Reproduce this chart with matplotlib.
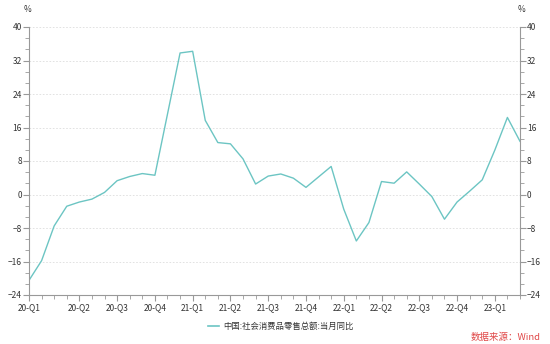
import matplotlib
matplotlib.use("Agg")
import matplotlib.pyplot as plt
from matplotlib.ticker import MultipleLocator, AutoMinorLocator

plt.rcParams['font.family'] = ['Noto Sans CJK SC', 'DejaVu Sans']

# Monthly YoY values (2020-02 .. 2023-05)
values = [-20.5, -15.8, -7.5, -2.8, -1.8, -1.1, 0.5, 3.3, 4.3, 5.0, 4.6,
          19.2, 33.8, 34.2, 17.7, 12.4, 12.1, 8.5, 2.5, 4.4, 4.9, 3.9, 1.7,
          4.2, 6.7, -3.5, -11.1, -6.7, 3.1, 2.7, 5.4, 2.5, -0.5, -5.9, -1.8,
          0.8, 3.5, 10.6, 18.4, 12.7]
tick_pos = [0, 4, 7, 10, 13, 16, 19, 22, 25, 28, 31, 34, 37]
tick_labels = ['20-Q1', '20-Q2', '20-Q3', '20-Q4', '21-Q1', '21-Q2', '21-Q3',
               '21-Q4', '22-Q1', '22-Q2', '22-Q3', '22-Q4', '23-Q1']
series_name = '中国:社会消费品零售总额:当月同比'
source_text = '数据来源：Wind'

fig = plt.figure(figsize=(5.5, 3.44), dpi=100)
ax = fig.add_axes([29/550, 1-295/344, (520-29)/550, (295-27)/344])

x = list(range(len(values)))
ax.plot(x, values, color='#6cc5c3', lw=1.0)

ax.set_xlim(0, len(values) - 1)
ax.set_ylim(-24, 40)
ax.yaxis.set_major_locator(MultipleLocator(8))
ax.yaxis.set_minor_locator(AutoMinorLocator(3))
ax.set_xticks(tick_pos)
ax.set_xticklabels(tick_labels)
ax.set_xticks(x, minor=True)

for v in range(-16, 41, 8):
    ax.axhline(v, color='#dddddd', lw=0.6, ls=(0, (2, 2)), zorder=0)

ax.spines['top'].set_visible(False)
for s in ['left', 'right', 'bottom']:
    ax.spines[s].set_color('#999999')
    ax.spines[s].set_linewidth(0.8)

ax.tick_params(axis='y', which='both', left=True, right=True,
               labelleft=True, labelright=True, direction='out',
               color='#999999', labelsize=6, labelcolor='#333333', pad=1)
ax.tick_params(axis='y', which='major', length=4)
ax.tick_params(axis='y', which='minor', length=3)
ax.tick_params(axis='x', which='both', direction='out',
               color='#999999', labelsize=6, labelcolor='#333333', pad=2)
ax.tick_params(axis='x', which='major', length=4)
ax.tick_params(axis='x', which='minor', length=3)

fig.text(28/550, 1-10/344, '%', fontsize=6, color='#333333', ha='center', va='center')
fig.text(521/550, 1-10/344, '%', fontsize=6, color='#333333', ha='center', va='center')

# legend
fig.add_artist(plt.Line2D([208/550, 219/550], [1-326/344, 1-326/344],
                          color='#6cc5c3', lw=1.2))
fig.text(223/550, 1-326/344, series_name, fontsize=6, color='#333333',
         ha='left', va='center')
fig.text(541/550, 1-337/344, source_text, fontsize=6.8, color='#e04848',
         ha='right', va='center')

fig.savefig('out.png', dpi=100, facecolor='white')
